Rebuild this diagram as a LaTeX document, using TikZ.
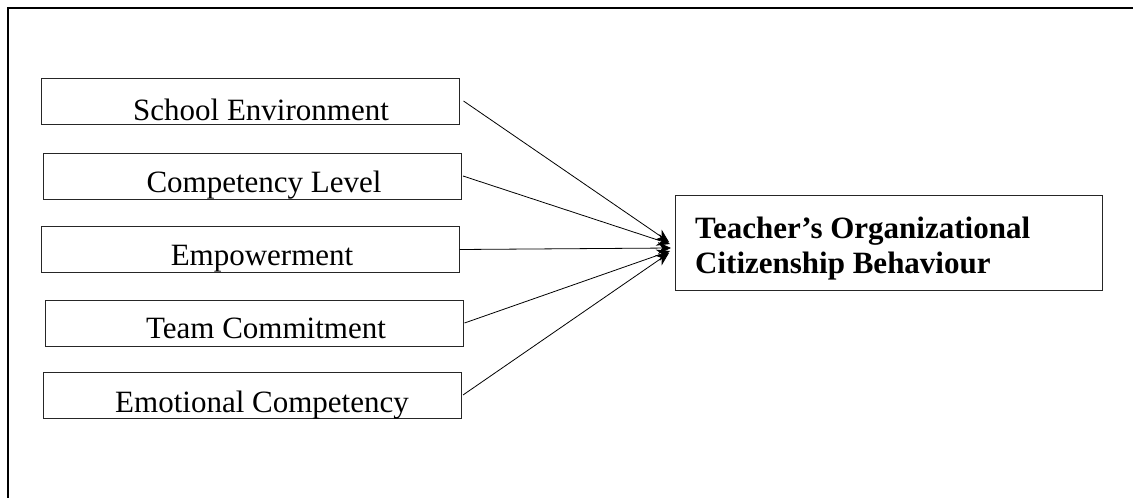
\documentclass[tikz,border=0pt]{standalone}
\usepackage{fontspec}
\setmainfont{Liberation Serif}
\usetikzlibrary{arrows.meta}
\tikzset{
  inbox/.style={draw=black!85, line width=1pt, rectangle, inner sep=0pt, minimum width=418pt, minimum height=46pt},
  outbox/.style={draw=black!85, line width=1pt, rectangle, inner sep=0pt, minimum width=427pt, minimum height=95pt},
  lab/.style={anchor=base, inner sep=0pt, font=\fontsize{31}{36}\selectfont},
  blab/.style={anchor=base west, inner sep=0pt, align=left, font=\fontsize{31}{35}\selectfont\bfseries},
  conn/.style={line width=0.8pt, -{Stealth[length=13pt,width=12pt]}},
}
\begin{document}
\begin{tikzpicture}[x=1pt,y=-1pt]
\useasboundingbox (0,0) rectangle (1133,498);
\draw[line width=2.2pt] (8,498) -- (8,8) -- (1133,8);
% input boxes
\node[inbox] (b1) at (250,101) {};
\node[inbox] (b2) at (252.5,176) {};
\node[inbox] (b3) at (250,249.5) {};
\node[inbox] (b4) at (254,323) {};
\node[inbox] (b5) at (252.5,395) {};
\node[lab] (t1) at (261,120) {School Environment};
\node[lab] (t2) at (264,192) {Competency Level};
\node[lab] (t3) at (262,265) {Empowerment};
\node[lab] (t4) at (266,338) {Team Commitment};
\node[lab] (t5) at (262,412) {Emotional Competency};
% outcome box
\node[outbox] (out) at (888.5,242.5) {};
\node[blab] (tout) at (695,273) {Teacher’s Organizational\\Citizenship Behaviour};
% arrows
\coordinate (tip1) at (669,242);
\coordinate (tip2) at (670,244);
\coordinate (tip3) at (671,248);
\coordinate (tip4) at (670,251);
\coordinate (tip5) at (669,253);
\draw[conn] ([xshift=4pt]b1.east) -- (tip1);
\draw[conn] ([xshift=1pt]b2.east) -- (tip2);
\draw[conn] (b3.east) -- (tip3);
\draw[conn] ([xshift=1pt]b4.east) -- (tip4);
\draw[conn] ([xshift=1pt]b5.east) -- (tip5);
\end{tikzpicture}
\end{document}
